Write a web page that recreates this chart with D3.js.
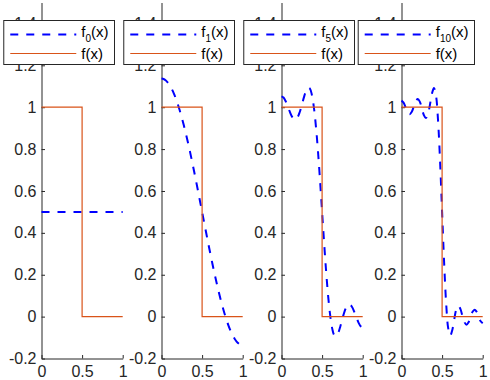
<!DOCTYPE html>
<html><head><meta charset="utf-8">
<script src="https://cdn.jsdelivr.net/npm/d3@7"></script>
<style>body{margin:0;background:#fff}svg{display:block}</style>
</head><body>
<svg id="c" width="490" height="380"></svg>
<script>
// ---- data ----
const xGrid = [0,0.025,0.05,0.075,0.1,0.125,0.15,0.175,0.2,0.225,0.25,0.275,0.3,0.325,0.35,0.375,0.4,0.425,0.45,0.475,0.5,
  0.525,0.55,0.575,0.6,0.625,0.65,0.675,0.7,0.725,0.75,0.775,0.8,0.825,0.85,0.875,0.9,0.925,0.95,0.975,1];
const f0X = [0, 1];
const f0Y = [0.5, 0.5];
const f1Y = [1.1366,1.1347,1.1288,1.1190,1.1055,1.0882,1.0672,1.0428,1.0150,0.9841,0.9502,0.9135,0.8742,0.8326,0.7890,0.7436,0.6967,0.6486,0.5996,0.5500,0.5000,
  0.4500,0.4004,0.3514,0.3033,0.2564,0.2110,0.1674,0.1258,0.0865,0.0498,0.0159,-0.0150,-0.0428,-0.0672,-0.0882,-0.1055,-0.1190,-0.1288,-0.1347,-0.1366];
const f5Y = [1.0517,1.0460,1.0297,1.0064,0.9807,0.9582,0.9440,0.9418,0.9533,0.9773,1.0102,1.0457,1.0760,1.0929,1.0887,1.0573,0.9957,0.9041,0.7860,0.6482,0.5000,
  0.3518,0.2140,0.0959,0.0043,-0.0573,-0.0887,-0.0929,-0.0760,-0.0457,-0.0102,0.0227,0.0467,0.0582,0.0560,0.0418,0.0193,-0.0064,-0.0297,-0.0460,-0.0517];
const f10Y = [1.0315,1.0222,0.9995,0.9766,0.9669,0.9769,1.0017,1.0275,1.0386,1.0266,0.9959,0.9628,0.9480,0.9651,1.0114,1.0650,1.0912,1.0551,0.9369,0.7417,0.5000,
  0.2583,0.0631,-0.0551,-0.0912,-0.0650,-0.0114,0.0349,0.0520,0.0372,0.0041,-0.0266,-0.0386,-0.0275,-0.0017,0.0231,0.0331,0.0234,0.0005,-0.0222,-0.0315];
const stepX = [0, 0.5, 0.5, 1];
const stepY = [1, 1, 0, 0];
const subLabels = ["0", "1", "5", "10"];
const xTicks = [0, 0.5, 1];
const xTickLabels = ["0", "0.5", "1"];
const yTicks = [-0.2, 0, 0.2, 0.4, 0.6, 0.8, 1, 1.2, 1.4];
const yTickLabels = ["-0.2", "0", "0.2", "0.4", "0.6", "0.8", "1", "1.2", "1.4"];

const panels = [
  {sub: subLabels[0], xs: f0X, ys: f0Y, smooth: false},
  {sub: subLabels[1], xs: xGrid, ys: f1Y, smooth: true},
  {sub: subLabels[2], xs: xGrid, ys: f5Y, smooth: true},
  {sub: subLabels[3], xs: xGrid, ys: f10Y, smooth: true}
];

// ---- drawing ----
const svg = d3.select("#c");
const FONT = "'Liberation Sans', Arial, Helvetica, sans-serif";
const AX = "#262626";
const y = d3.scaleLinear().domain([-0.2, 1.5]).range([358.5, 2.5]);
const axLayer = svg.append("g");
const legLayer = svg.append("g");
const scales = [];

panels.forEach((p, i) => {
  const left = 41.5 + 120 * i;
  const x = d3.scaleLinear().domain([0, 1]).range([left, left + 81.2]);
  scales.push(x);
  const g = axLayer.append("g");

  const ya = g.append("g").attr("transform", `translate(${left},0)`)
    .call(d3.axisLeft(y).tickValues(yTicks).tickSizeInner(-3.5).tickSizeOuter(0).tickPadding(5)
      .tickFormat((d, k) => yTickLabels[k]));
  const xa = g.append("g").attr("transform", `translate(0,${y(-0.2)})`)
    .call(d3.axisBottom(x).tickValues(xTicks).tickSizeInner(-3.5).tickSizeOuter(0).tickPadding(7)
      .tickFormat((d, k) => xTickLabels[k]));
  [ya, xa].forEach(a => {
    a.attr("font-family", FONT).attr("font-size", 16);
    a.selectAll("path,line").attr("stroke", AX).attr("stroke-width", 1);
    a.selectAll("text").attr("fill", AX);
  });

  const pts = p.xs.map((v, k) => [v, p.ys[k]]);
  const line = d3.line().x(d => x(d[0])).y(d => y(d[1]))
    .curve(p.smooth ? d3.curveCatmullRom : d3.curveLinear);
  g.append("path").attr("d", line(pts)).attr("fill", "none")
    .attr("stroke", "#0000FF").attr("stroke-width", 2).attr("stroke-dasharray", "8,8");

  const sp = stepX.map((v, k) => [v, stepY[k]]);
  g.append("path").attr("d", d3.line().x(d => x(d[0])).y(d => y(d[1]))(sp))
    .attr("fill", "none").attr("stroke", "#D95319").attr("stroke-width", 1.2);
});

// legends on top
panels.forEach((p, i) => {
  const x = scales[i];
  const right = x(1) - 8.2;
  const g = legLayer.append("g");
  const box = g.append("rect").attr("y", 20.5).attr("height", 44)
    .attr("fill", "#fff").attr("stroke", AX).attr("stroke-width", 1);
  const t1 = g.append("text").attr("font-family", FONT).attr("font-size", 15).attr("fill", "#000")
    .attr("y", 36.5);
  t1.append("tspan").text("f");
  t1.append("tspan").attr("font-size", 10).attr("dy", 5.5).text(p.sub);
  t1.append("tspan").attr("dy", -5.5).text("(x)");
  const t2 = g.append("text").attr("font-family", FONT).attr("font-size", 15).attr("fill", "#000")
    .attr("y", 58.5).text("f(x)");
  const tw = Math.max(t1.node().getBBox().width, t2.node().getBBox().width);
  const w = 77.5 + tw + 6;
  const left = right - w;
  box.attr("x", left).attr("width", w);
  t1.attr("x", left + 77.5); t1.select("tspan").attr("x", left + 77.5);
  t2.attr("x", left + 77.5);
  g.append("line").attr("x1", left + 6.5).attr("x2", left + 72.5).attr("y1", 34.5).attr("y2", 34.5)
    .attr("stroke", "#0000FF").attr("stroke-width", 2).attr("stroke-dasharray", "8,8");
  g.append("line").attr("x1", left + 6.5).attr("x2", left + 72.5).attr("y1", 53.5).attr("y2", 53.5)
    .attr("stroke", "#D95319").attr("stroke-width", 1.2);
});
</script>
</body></html>
